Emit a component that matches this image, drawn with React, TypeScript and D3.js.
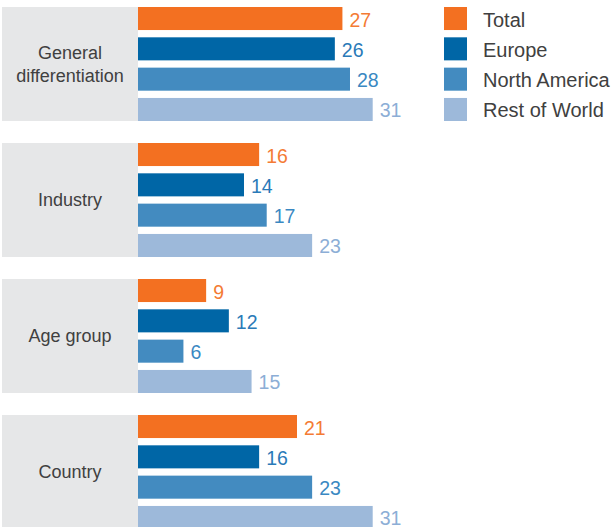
import React from "react";
import * as d3 from "d3";

const categories = ["General differentiation", "Industry", "Age group", "Country"];
const categoryLines = [["General", "differentiation"], ["Industry"], ["Age group"], ["Country"]];
const seriesNames = ["Total", "Europe", "North America", "Rest of World"];
const totalValues = [27, 16, 9, 21];
const europeValues = [26, 14, 12, 16];
const northAmericaValues = [28, 17, 6, 23];
const restOfWorldValues = [31, 23, 15, 31];

const seriesValues = [totalValues, europeValues, northAmericaValues, restOfWorldValues];
const barColors = ["#f37021", "#0066a6", "#438bc0", "#9db9da"];
const labelColors = ["#f47b34", "#2a7ab8", "#3a88c2", "#8caed6"];

const W = 615;
const H = 527;

export default function App() {
  const y = d3
    .scaleBand<string>()
    .domain(categories)
    .range([7, 7 + 136 * 4 - 22])
    .paddingInner(22 / 136)
    .paddingOuter(0);

  const ys = d3
    .scaleBand<string>()
    .domain(seriesNames)
    .range([0, y.bandwidth()])
    .paddingInner(0.24)
    .paddingOuter(0);

  const x = d3.scaleLinear().domain([0, 31]).range([138, 372.7]);

  const font = "'Liberation Sans', Arial, Helvetica, sans-serif";
  const textColor = "#404040";

  return (
    <svg
      width={W}
      height={H}
      style={{ position: "absolute", left: 0, top: 0, display: "block" }}
      fontFamily={font}
    >
      {categories.map((c, i) => {
        const top = y(c) as number;
        const bandH = y.bandwidth();
        const lines = categoryLines[i];
        const cy = top + bandH / 2;
        return (
          <g key={c}>
            <rect x={2} y={top} width={136} height={bandH} fill="#e6e7e8" />
            <text
              x={70}
              y={cy - ((lines.length - 1) * 23) / 2}
              textAnchor="middle"
              dominantBaseline="central"
              fontSize={18}
              fill={textColor}
            >
              {lines.map((l, k) => (
                <tspan key={k} x={70} dy={k === 0 ? 0 : 23}>
                  {l}
                </tspan>
              ))}
            </text>
            {seriesNames.map((s, j) => {
              const v = seriesValues[j][i];
              const by = top + (ys(s) as number);
              const bh = ys.bandwidth();
              return (
                <g key={s}>
                  <rect x={x(0)} y={by} width={x(v) - x(0)} height={bh} fill={barColors[j]} />
                  <text
                    x={x(v) + 7}
                    y={by + bh / 2 + 1}
                    dominantBaseline="central"
                    fontSize={19.5}
                    fill={labelColors[j]}
                  >
                    {v}
                  </text>
                </g>
              );
            })}
          </g>
        );
      })}
      {seriesNames.map((s, j) => {
        const by = (y(categories[0]) as number) + (ys(s) as number);
        const bh = ys.bandwidth();
        return (
          <g key={s}>
            <rect x={444} y={by} width={23} height={bh} fill={barColors[j]} />
            <text
              x={483}
              y={by + bh / 2 + 1}
              dominantBaseline="central"
              fontSize={20}
              fill={textColor}
            >
              {s}
            </text>
          </g>
        );
      })}
    </svg>
  );
}
